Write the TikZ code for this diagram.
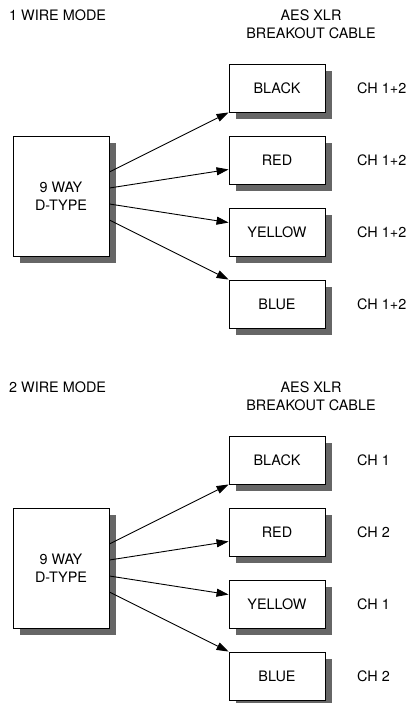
\documentclass[tikz,border=0pt]{standalone}
\usepackage{fontspec}
\setmainfont{TeX Gyre Heros}
\usetikzlibrary{shadows,arrows.meta}
\definecolor{shadowgray}{HTML}{666666}
\begin{document}
\begin{tikzpicture}[x=1pt,y=-1pt,
  every node/.style={font=\fontsize{14.4}{18}\selectfont, inner sep=0pt},
  boxnode/.style={draw, fill=white, line width=0.9pt, minimum width=96pt, minimum height=48pt,
    drop shadow={shadow xshift=7pt, shadow yshift=-7pt, fill=shadowgray, opacity=1}},
  dtnode/.style={boxnode, minimum height=120pt, align=center},
  chlabel/.style={anchor=west},
  title/.style={anchor=west},
  cable/.style={align=center},
  arr/.style={line width=0.9pt, -{Triangle[length=12pt,width=8pt]}}
]
\useasboundingbox (0,0) rectangle (408,703);

% ---------- 1 wire mode ----------
\node[title] (t1) at (9,15) {1 WIRE MODE};
\node[cable] (c1) at (311,24) {AES XLR\\BREAKOUT CABLE};
\node[dtnode] (dA) at (61,196) {9 WAY\\D-TYPE};
\node[boxnode] (bkA) at (277,88) {BLACK};
\node[boxnode] (rdA) at (277,160) {RED};
\node[boxnode] (ywA) at (277,232) {YELLOW};
\node[boxnode] (blA) at (277,304) {BLUE};
\node[chlabel] (lA1) at (357,88) {CH 1+2};
\node[chlabel] (lA2) at (357,160) {CH 1+2};
\node[chlabel] (lA3) at (357,232) {CH 1+2};
\node[chlabel] (lA4) at (357,304) {CH 1+2};
\draw[arr] ([yshift=24pt]dA.east) -- (bkA.south west);
\draw[arr] ([yshift=8pt]dA.east) -- ([yshift=15pt]rdA.south west);
\draw[arr] ([yshift=-8pt]dA.east) -- ([yshift=-15pt]ywA.north west);
\draw[arr] ([yshift=-24pt]dA.east) -- (blA.north west);

% ---------- 2 wire mode ----------
\node[title] (t2) at (9,387) {2 WIRE MODE};
\node[cable] (c2) at (311,396) {AES XLR\\BREAKOUT CABLE};
\node[dtnode] (dB) at (61,568) {9 WAY\\D-TYPE};
\node[boxnode] (bkB) at (277,460) {BLACK};
\node[boxnode] (rdB) at (277,532) {RED};
\node[boxnode] (ywB) at (277,604) {YELLOW};
\node[boxnode] (blB) at (277,676) {BLUE};
\node[chlabel] (lB1) at (357,460) {CH 1};
\node[chlabel] (lB2) at (357,532) {CH 2};
\node[chlabel] (lB3) at (357,604) {CH 1};
\node[chlabel] (lB4) at (357,676) {CH 2};
\draw[arr] ([yshift=24pt]dB.east) -- (bkB.south west);
\draw[arr] ([yshift=8pt]dB.east) -- ([yshift=15pt]rdB.south west);
\draw[arr] ([yshift=-8pt]dB.east) -- ([yshift=-15pt]ywB.north west);
\draw[arr] ([yshift=-24pt]dB.east) -- (blB.north west);
\end{tikzpicture}
\end{document}
